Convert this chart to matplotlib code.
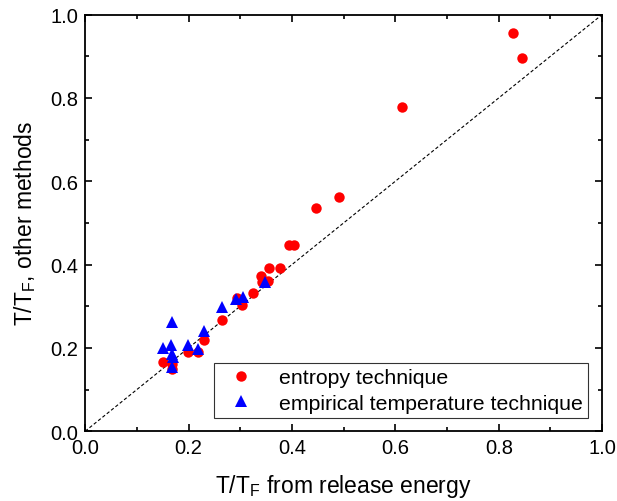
import matplotlib
matplotlib.use("Agg")
from matplotlib import pyplot as plt
from matplotlib.ticker import MultipleLocator

plt.rcParams['font.family'] = ['Liberation Sans', 'DejaVu Sans']
plt.rcParams['mathtext.fontset'] = 'custom'
plt.rcParams['mathtext.rm'] = 'Liberation Sans'

# entropy technique (red circles)
entropy_x = [0.828, 0.845, 0.613, 0.491, 0.447, 0.394, 0.403, 0.377, 0.356,
             0.340, 0.353, 0.343, 0.324, 0.294, 0.304, 0.265, 0.230, 0.199,
             0.218, 0.150, 0.168, 0.168]
entropy_y = [0.955, 0.896, 0.777, 0.562, 0.536, 0.448, 0.448, 0.392, 0.392,
             0.373, 0.361, 0.357, 0.332, 0.319, 0.303, 0.268, 0.219, 0.191,
             0.189, 0.167, 0.161, 0.149]

# empirical temperature technique (blue triangles)
empirical_x = [0.348, 0.305, 0.292, 0.265, 0.168, 0.230, 0.199, 0.218,
               0.150, 0.167, 0.168, 0.170, 0.168]
empirical_y = [0.357, 0.321, 0.317, 0.297, 0.263, 0.241, 0.207, 0.197,
               0.199, 0.207, 0.185, 0.178, 0.153]

fig = plt.figure(figsize=(6.17, 5.02), dpi=100)
ax = fig.add_axes([0.138, 0.139, 0.838, 0.830])

ax.plot([0, 1], [0, 1], color='black', linestyle=(0, (3, 2)), linewidth=0.8)
ax.plot(entropy_x, entropy_y, 'o', color='red', markersize=7.5,
        markeredgewidth=0, label='entropy technique')
ax.plot(empirical_x, empirical_y, '^', color='blue', markersize=8.5,
        markeredgewidth=0, label='empirical temperature technique')

ax.set_xlim(0, 1)
ax.set_ylim(0, 1)
ax.xaxis.set_major_locator(MultipleLocator(0.2))
ax.xaxis.set_minor_locator(MultipleLocator(0.1))
ax.yaxis.set_major_locator(MultipleLocator(0.2))
ax.yaxis.set_minor_locator(MultipleLocator(0.1))
ax.tick_params(which='both', direction='in', top=True, right=True,
               labelsize=14.5, width=1.2)
ax.tick_params(which='major', length=5)
ax.tick_params(which='minor', length=3)
ax.tick_params(axis='x', pad=5)
ax.tick_params(axis='y', pad=5)
for s in ax.spines.values():
    s.set_linewidth(1.3)

ax.set_xlabel(r'T/T$_\mathregular{F}$ from release energy', fontsize=16.5, labelpad=11)
ax.set_ylabel(r'T/T$_\mathregular{F}$, other methods', fontsize=16.5, labelpad=9)

leg = ax.legend(loc='lower right', bbox_to_anchor=(0.973, 0.032), fontsize=15.3,
                frameon=True, fancybox=False, edgecolor='black',
                handletextpad=0.8, borderpad=0.25, labelspacing=0.3,
                borderaxespad=0)
leg.get_frame().set_linewidth(0.8)

plt.savefig('out.png', dpi=100)
